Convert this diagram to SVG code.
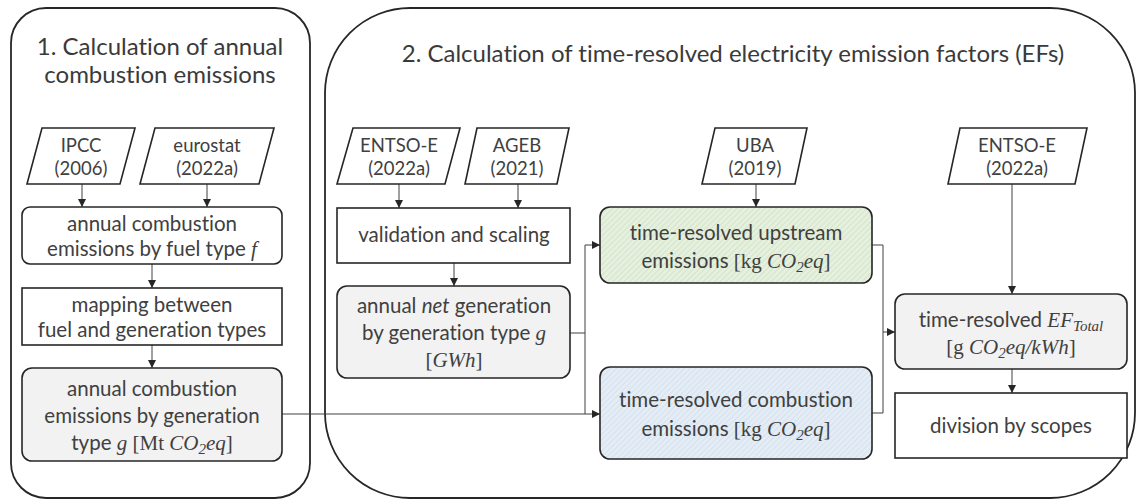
<svg xmlns="http://www.w3.org/2000/svg" width="1137" height="500" viewBox="0 0 1137 500">
<defs>
<style>
text{font-variant-ligatures:none}
.cont{fill:#fff;stroke:#262626;stroke-width:1.8}
.box{stroke:#262626;stroke-width:1.6}
.w{fill:#fff}
.g{fill:#f2f2f2}
.t{font-family:Lato,"Liberation Sans",sans-serif;font-size:20.5px;fill:#404040;text-anchor:middle}
.src{font-family:Lato,"Liberation Sans",sans-serif;font-size:18.5px;fill:#404040;text-anchor:middle}
.title{font-family:Lato,"Liberation Sans",sans-serif;font-size:24px;fill:#3a3a3a;text-anchor:middle}
.m{font-family:"Liberation Serif",serif;font-style:italic;font-size:21px}
.u{font-family:"Liberation Serif",serif;font-style:normal;font-size:21px}
.sub{font-size:15px}
.con{fill:none;stroke:#404040;stroke-width:1}
</style>
<marker id="arr" viewBox="0 0 10 10" refX="10" refY="5" markerWidth="8" markerHeight="8" markerUnits="userSpaceOnUse" orient="auto">
<path d="M0,0 L10,5 L0,10 Z" fill="#262626"/>
</marker>
<pattern id="hg" width="4" height="4" patternUnits="userSpaceOnUse" patternTransform="rotate(45)">
<rect width="4" height="4" fill="#e6f0de"/>
<line x1="0" y1="0" x2="0" y2="4" stroke="#c9dcbb" stroke-width="1.2"/>
</pattern>
<pattern id="hb" width="4" height="4" patternUnits="userSpaceOnUse" patternTransform="rotate(45)">
<rect width="4" height="4" fill="#e4edf6"/>
<line x1="0" y1="0" x2="0" y2="4" stroke="#cbd9e8" stroke-width="1.2"/>
</pattern>
</defs>

<g id="container1">
<rect class="cont" x="11" y="8" width="299" height="490" rx="35"/>
<text class="title" x="160" y="55">1. Calculation of annual</text>
<text class="title" x="160" y="83">combustion emissions</text>
</g>
<g id="container2">
<rect class="cont" x="325" y="8" width="810" height="490" rx="85"/>
<text class="title" x="733" y="62" font-size="23.4">2. Calculation of time-resolved electricity emission factors (EFs)</text>
</g>

<g id="connectors">
<line class="con" x1="82" y1="184" x2="82" y2="207" marker-end="url(#arr)"/>
<line class="con" x1="207" y1="184" x2="207" y2="207" marker-end="url(#arr)"/>
<line class="con" x1="152" y1="264" x2="152" y2="288" marker-end="url(#arr)"/>
<line class="con" x1="152" y1="345" x2="152" y2="368" marker-end="url(#arr)"/>
<polyline class="con" points="282,414 600,414" marker-end="url(#arr)"/>
<line class="con" x1="399" y1="184" x2="399" y2="208" marker-end="url(#arr)"/>
<line class="con" x1="518" y1="184" x2="518" y2="208" marker-end="url(#arr)"/>
<line class="con" x1="454" y1="263" x2="454" y2="286" marker-end="url(#arr)"/>
<polyline class="con" points="570,333 585,333 585,245 600,245" marker-end="url(#arr)"/>
<line class="con" x1="585" y1="333" x2="585" y2="414"/>
<line class="con" x1="756" y1="184" x2="756" y2="207" marker-end="url(#arr)"/>
<polyline class="con" points="872,245 883,245 883,413 872,413"/>
<line class="con" x1="883" y1="332" x2="895" y2="332" marker-end="url(#arr)"/>
<line class="con" x1="1012" y1="184" x2="1012" y2="294" marker-end="url(#arr)"/>
<line class="con" x1="1012" y1="369" x2="1012" y2="393" marker-end="url(#arr)"/>
</g>

<g id="ipcc">
<polygon class="box w" points="42,128 135,128 120,184 27,184"/>
<text class="src" x="81" y="152">IPCC</text>
<text class="src" x="81" y="175">(2006)</text>
</g>
<g id="eurostat">
<polygon class="box w" points="155,128 274,128 259,184 140,184"/>
<text class="src" x="207" y="152">eurostat</text>
<text class="src" x="207" y="175">(2022a)</text>
</g>
<g id="fuel-emissions">
<rect class="box w" x="22" y="207" width="260" height="57" rx="8"/>
<text class="t" x="152" y="231">annual combustion</text>
<text class="t" x="152" y="256">emissions by fuel type <tspan class="m">f</tspan></text>
</g>
<g id="mapping">
<rect class="box w" x="22" y="288" width="260" height="57"/>
<text class="t" x="152" y="312">mapping between</text>
<text class="t" x="152" y="337">fuel and generation types</text>
</g>
<g id="gen-emissions">
<rect class="box g" x="22" y="368" width="260" height="93" rx="10"/>
<text class="t" x="152" y="396">annual combustion</text>
<text class="t" x="152" y="423">emissions by generation</text>
<text class="t" x="152" y="450">type <tspan class="m">g</tspan> <tspan class="u">[Mt </tspan><tspan class="m">CO</tspan><tspan class="m sub" dy="4">2</tspan><tspan class="m" dy="-4">eq</tspan><tspan class="u">]</tspan></text>
</g>

<g id="entsoe1">
<polygon class="box w" points="353,128 460,128 445,184 337,184"/>
<text class="src" x="399" y="152">ENTSO-E</text>
<text class="src" x="399" y="175">(2022a)</text>
</g>
<g id="ageb">
<polygon class="box w" points="477,128 569,128 557,184 465,184"/>
<text class="src" x="517" y="152">AGEB</text>
<text class="src" x="517" y="175">(2021)</text>
</g>
<g id="validation">
<rect class="box w" x="337" y="208" width="233" height="55"/>
<text class="t" x="454" y="242">validation and scaling</text>
</g>
<g id="net-generation">
<rect class="box g" x="337" y="286" width="233" height="92" rx="10"/>
<text class="t" x="454" y="313">annual <tspan font-style="italic">net</tspan> generation</text>
<text class="t" x="454" y="340">by generation type <tspan class="m">g</tspan></text>
<text class="t" x="454" y="367"><tspan class="u">[</tspan><tspan class="m">GWh</tspan><tspan class="u">]</tspan></text>
</g>

<g id="uba">
<polygon class="box w" points="715,128 807,128 795,184 702,184"/>
<text class="src" x="755" y="152">UBA</text>
<text class="src" x="755" y="175">(2019)</text>
</g>
<g id="upstream">
<rect class="box" fill="url(#hg)" x="600" y="207" width="272" height="76" rx="10"/>
<text class="t" x="736" y="240">time-resolved upstream</text>
<text class="t" x="736" y="268">emissions <tspan class="u">[kg </tspan><tspan class="m">CO</tspan><tspan class="m sub" dy="4">2</tspan><tspan class="m" dy="-4">eq</tspan><tspan class="u">]</tspan></text>
</g>
<g id="combustion">
<rect class="box" fill="url(#hb)" x="600" y="367" width="272" height="92" rx="10"/>
<text class="t" x="736" y="407">time-resolved combustion</text>
<text class="t" x="736" y="436">emissions <tspan class="u">[kg </tspan><tspan class="m">CO</tspan><tspan class="m sub" dy="4">2</tspan><tspan class="m" dy="-4">eq</tspan><tspan class="u">]</tspan></text>
</g>

<g id="entsoe2">
<polygon class="box w" points="960,128 1087,128 1075,184 948,184"/>
<text class="src" x="1017" y="152">ENTSO-E</text>
<text class="src" x="1017" y="175">(2022a)</text>
</g>
<g id="ef-total">
<rect class="box g" x="895" y="294" width="232" height="75" rx="10"/>
<text class="t" x="1011" y="327">time-resolved <tspan class="m">EF</tspan><tspan class="m sub" dy="4">Total</tspan></text>
<text class="t" x="1011" y="354"><tspan class="u">[g </tspan><tspan class="m">CO</tspan><tspan class="m sub" dy="4">2</tspan><tspan class="m" dy="-4">eq/kWh</tspan><tspan class="u">]</tspan></text>
</g>
<g id="division">
<rect class="box w" x="895" y="393" width="232" height="65"/>
<text class="t" x="1011" y="433">division by scopes</text>
</g>
</svg>
